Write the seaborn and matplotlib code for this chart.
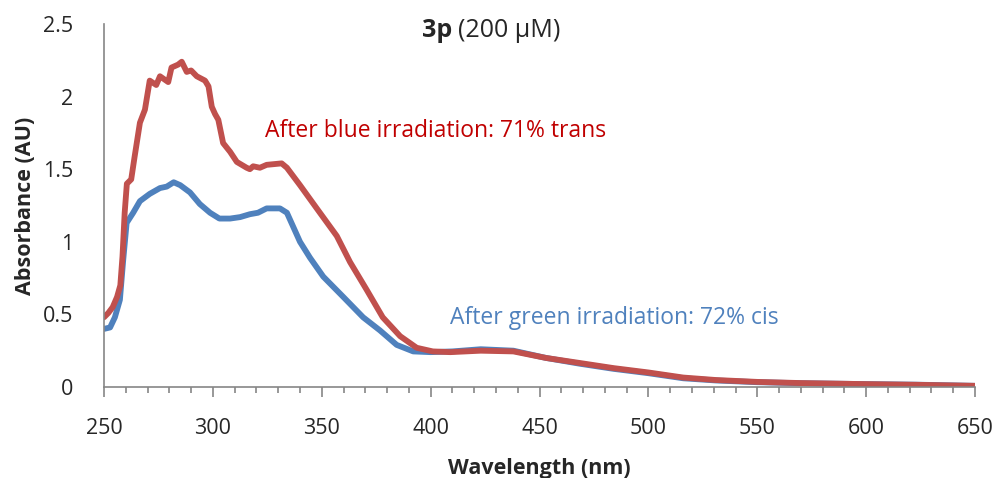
import pandas as pd
import matplotlib.pyplot as plt
from matplotlib.ticker import MultipleLocator
import seaborn as sns

# Spectrum after blue irradiation (red trace, 71% trans)
wl_blue_irr = [250, 252, 254, 256, 257.5, 258.5, 259.5, 260.5, 262.5, 264, 266.5, 268.8,
               271, 274, 275.7, 279.5, 281, 284, 285.7, 288, 290, 292.6, 296.4, 298,
               299.5, 301, 302.5, 304.7, 307.9, 311, 315.5, 317, 318.5, 321.6, 324.7,
               331.6, 334, 340, 347.7, 356.9, 363, 370.6, 378, 386, 393.6, 401, 409,
               423, 438, 453, 468.6, 484, 500, 516, 531, 550, 570, 599, 623, 650]
abs_blue_irr = [0.48, 0.51, 0.55, 0.62, 0.70, 0.90, 1.20, 1.40, 1.43, 1.58, 1.82, 1.91,
                2.11, 2.08, 2.14, 2.10, 2.20, 2.22, 2.24, 2.17, 2.18, 2.14, 2.11, 2.07,
                1.93, 1.88, 1.84, 1.68, 1.62, 1.55, 1.51, 1.50, 1.52, 1.51, 1.53,
                1.54, 1.51, 1.39, 1.23, 1.04, 0.86, 0.67, 0.48, 0.35, 0.27, 0.245, 0.24,
                0.25, 0.245, 0.20, 0.165, 0.13, 0.10, 0.065, 0.048, 0.035, 0.027, 0.02, 0.015, 0.008]

# Spectrum after green irradiation (blue trace, 72% cis)
wl_green_irr = [250, 252.8, 255, 257.3, 258.8, 260.4, 263.4, 266.5, 271, 275.7, 278.8,
                282, 285, 289.5, 294, 298.7, 303, 307.9, 312.5, 317, 320.7, 324.7, 330.8,
                334, 340, 344.6, 350.7, 359.9, 369, 376.7, 384.4, 392, 400, 410, 423,
                438, 453, 468.6, 484, 500, 516, 531, 550, 570, 599, 623, 650]
abs_green_irr = [0.40, 0.41, 0.48, 0.60, 0.87, 1.13, 1.20, 1.28, 1.33, 1.37, 1.38,
                 1.41, 1.39, 1.34, 1.26, 1.20, 1.16, 1.16, 1.17, 1.19, 1.20, 1.23, 1.23,
                 1.20, 1.00, 0.89, 0.76, 0.62, 0.48, 0.39, 0.29, 0.245, 0.24, 0.245, 0.26,
                 0.25, 0.20, 0.16, 0.125, 0.095, 0.06, 0.045, 0.033, 0.026, 0.02, 0.016, 0.008]

df = pd.concat([
    pd.DataFrame({"wl": wl_green_irr, "A": abs_green_irr, "run": "green"}),
    pd.DataFrame({"wl": wl_blue_irr, "A": abs_blue_irr, "run": "blue"}),
])

sns.set_style("white")
plt.rcParams['font.family'] = ['Open Sans', 'DejaVu Sans']

fig = plt.figure(figsize=(9.98, 4.78), dpi=100)
ax = fig.add_axes([0.1042, 0.1904, 0.977 - 0.1042, 0.9498 - 0.1904])

sns.lineplot(data=df, x="wl", y="A", hue="run", estimator=None, sort=False,
             palette={"green": "#4F81BD", "blue": "#C0504D"}, linewidth=4.2,
             legend=False, ax=ax)

ax.set_xlim(250, 650)
ax.set_ylim(0, 2.5)
ax.xaxis.set_major_locator(MultipleLocator(50))
ax.xaxis.set_minor_locator(MultipleLocator(10))
ax.set_yticks([0, 0.5, 1, 1.5, 2, 2.5])
ax.set_yticklabels(["0", "0.5", "1", "1.5", "2", "2.5"])

for s in ["top", "right"]:
    ax.spines[s].set_visible(False)
for s in ["left", "bottom"]:
    ax.spines[s].set_color("#868686")
    ax.spines[s].set_linewidth(1.2)

ax.tick_params(axis="x", which="major", direction="out", length=7, width=1.2,
               color="#868686", labelsize=15.5, pad=15, bottom=True)
ax.tick_params(axis="x", which="minor", direction="out", length=4.5, width=1.2,
               color="#868686", bottom=True)
ax.tick_params(axis="y", length=0, labelsize=15.5, pad=22)

ax.set_xlabel("Wavelength (nm)", fontsize=15.5, fontweight="bold", labelpad=14)
ax.set_ylabel("Absorbance (AU)", fontsize=15.5, fontweight="bold", labelpad=5)

ax.text(324, 1.76, "After blue irradiation: 71% trans", color="#C00000",
        fontsize=16.5, va="center", ha="left")
ax.text(409, 0.475, "After green irradiation: 72% cis", color="#4F81BD",
        fontsize=16.5, va="center", ha="left")

fig.text(452 / 998, 1 - 37 / 478, "3p", fontsize=18, fontweight="bold",
         ha="right", va="baseline")
fig.text(458 / 998, 1 - 37 / 478, "(200 µM)", fontsize=18,
         ha="left", va="baseline")

fig.savefig("out.png", dpi=100)
